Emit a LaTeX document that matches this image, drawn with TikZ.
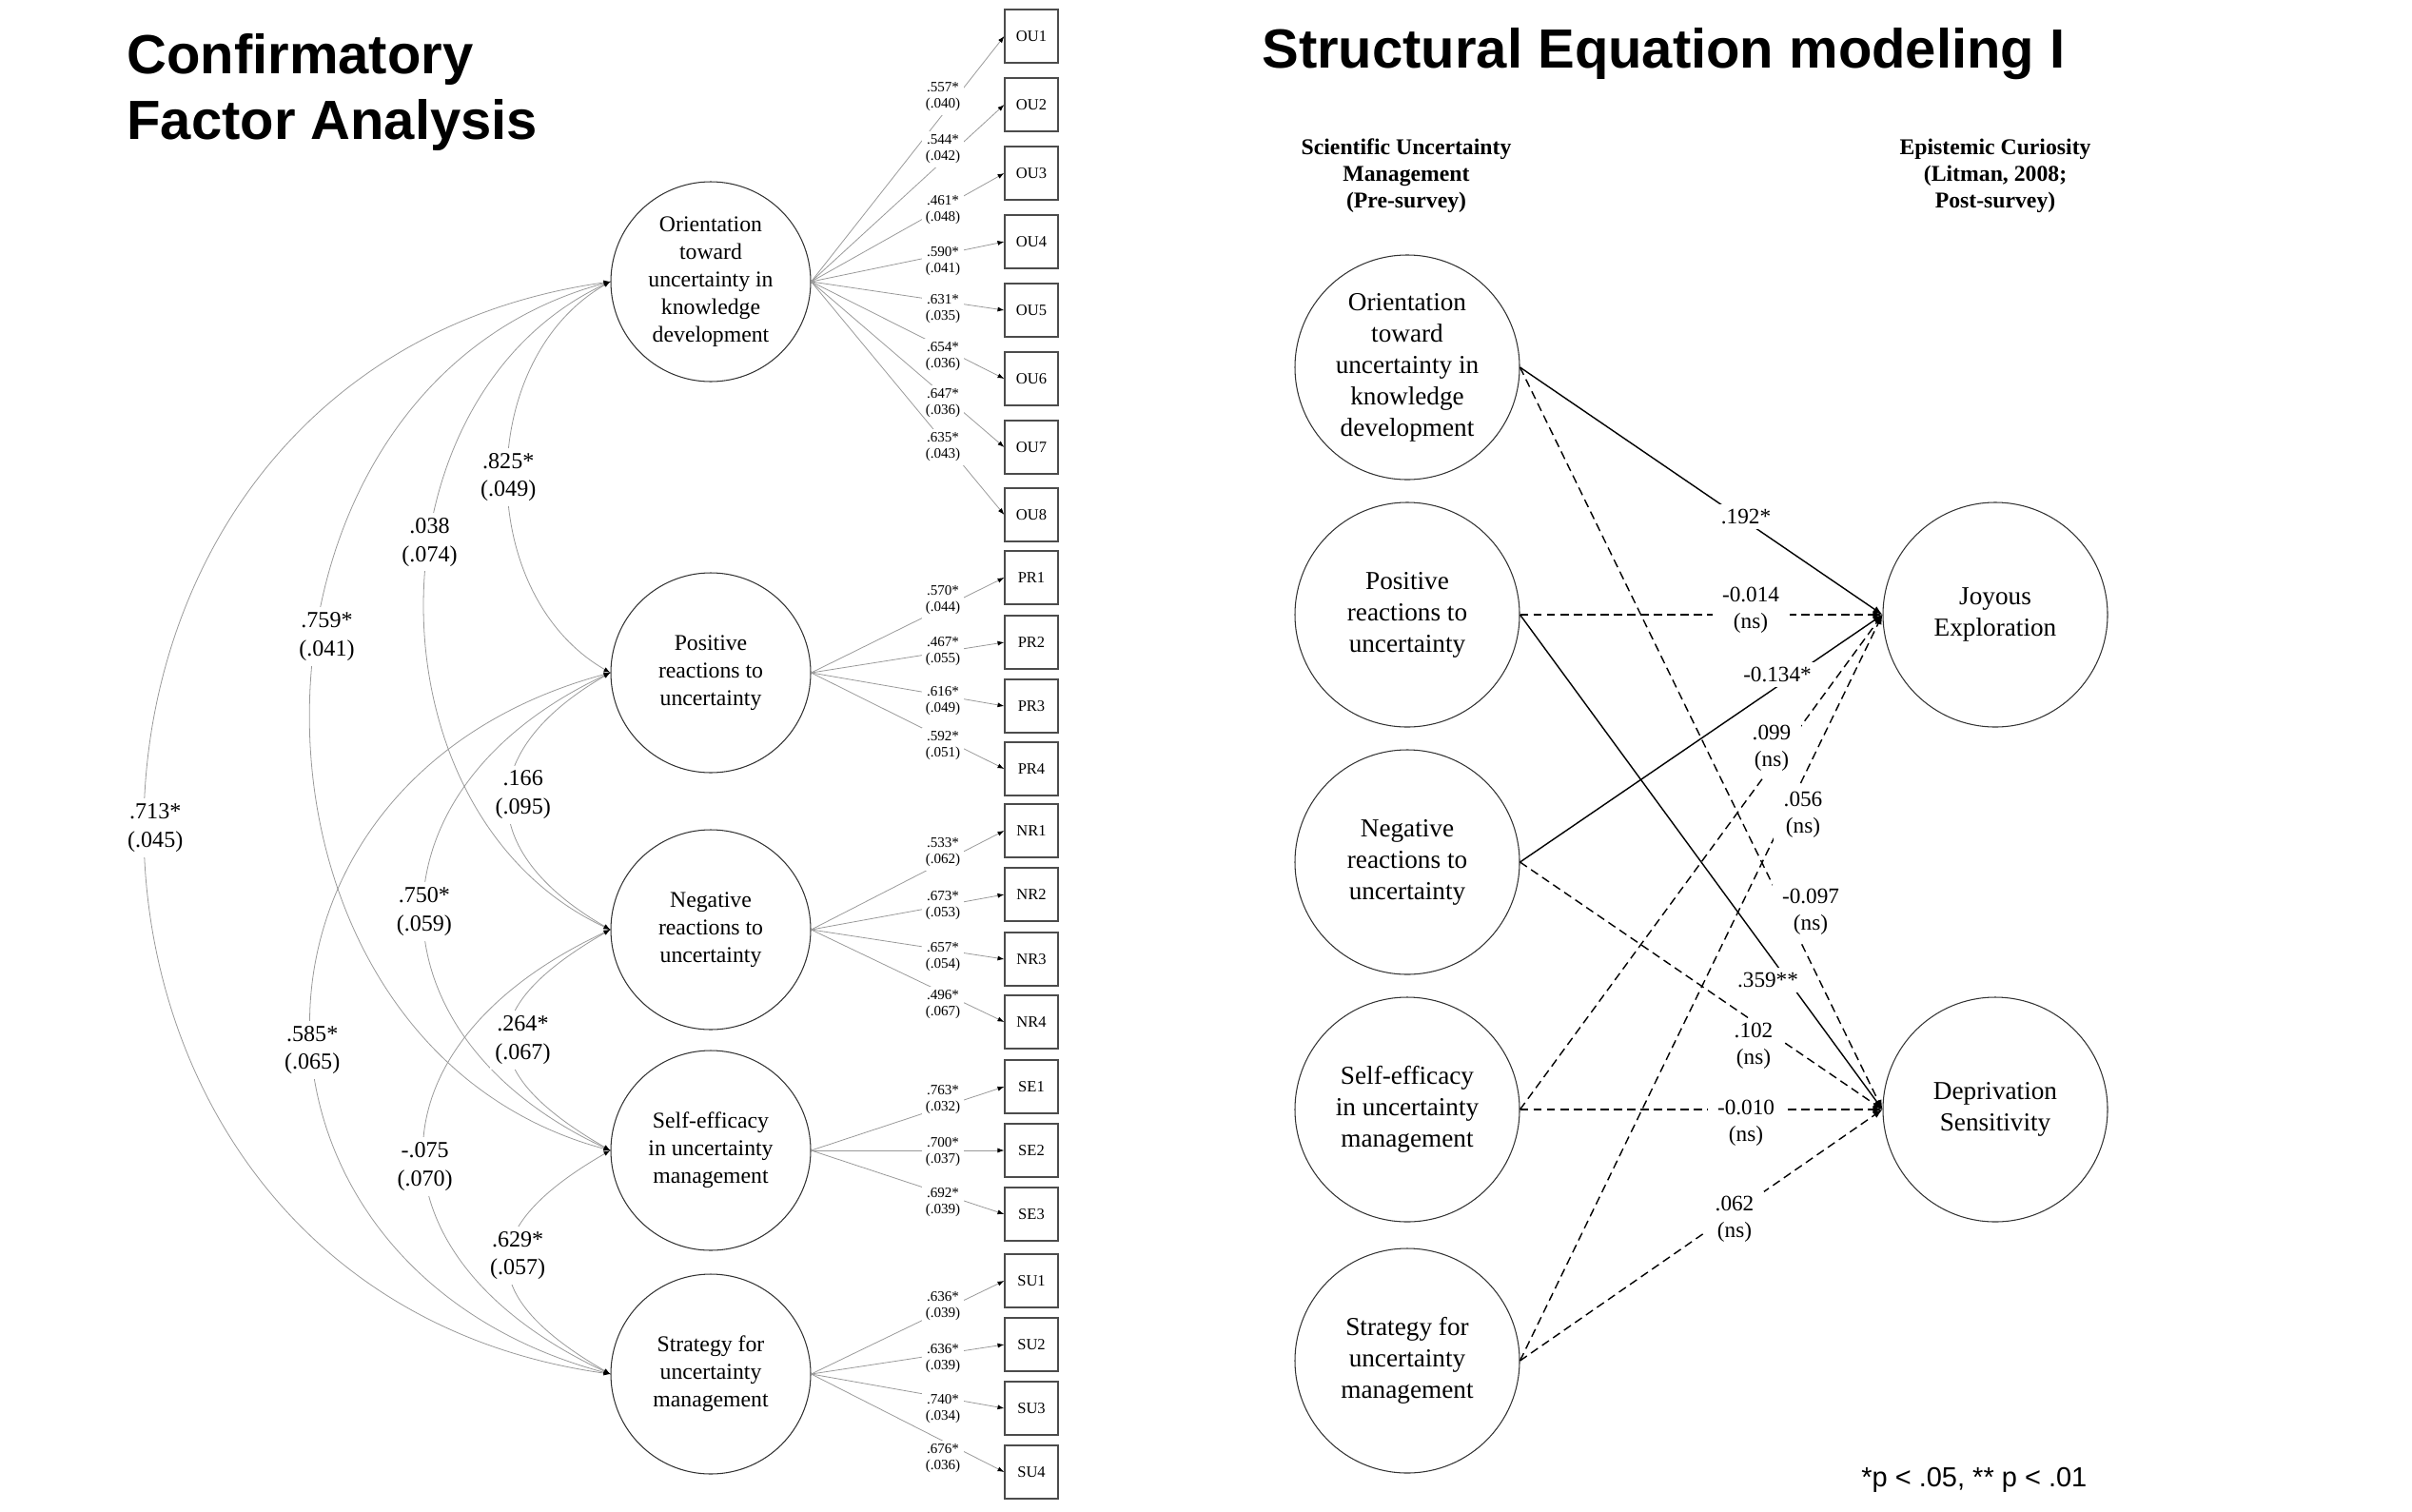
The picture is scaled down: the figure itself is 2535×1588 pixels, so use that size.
\documentclass[tikz,border=0pt]{standalone}
\usepackage{fontspec}
\setmainfont{Liberation Serif}
\setsansfont{Liberation Sans}
\usetikzlibrary{arrows.meta,positioning}
\tikzset{
  lat/.style={circle, draw=black!80, line width=0.6pt, minimum size=42mm,
              inner sep=0pt, align=center, font=\fontsize{13.5}{16.5}\selectfont},
  latr/.style={lat, minimum size=47.2mm, font=\fontsize{15.5}{18.8}\selectfont},
  ind/.style={rectangle, draw=black!70, line width=0.6pt, minimum size=11.2mm,
              inner sep=0pt, font=\fontsize{9.4}{11}\selectfont},
  load/.style={draw=black!40, line width=0.45pt,
               -{Latex[length=1.4mm,width=1mm,color=black]}},
  ldlbl/.style={fill=white, inner sep=2pt, align=center,
                font=\fontsize{8.6}{9.7}\selectfont},
  cov/.style={draw=black!40, line width=0.45pt,
              {Latex[length=1.4mm,width=1mm,color=black]}-{Latex[length=1.4mm,width=1mm,color=black]}},
  corlbl/.style={fill=white, inner sep=3pt, align=center,
                 font=\fontsize{13.7}{17}\selectfont},
  sig/.style={line width=0.8pt, -{Latex[length=2mm,width=1.5mm]}},
  nsig/.style={sig, dash pattern=on 5pt off 3pt},
  pathlbl/.style={fill=white, inner xsep=6pt, inner ysep=3pt, align=center,
                  font=\fontsize{13.2}{16}\selectfont},
  head/.style={align=center, inner sep=0pt, font=\bfseries\fontsize{13.5}{16}\selectfont},
  title/.style={align=left, inner sep=0pt, font=\sffamily\bfseries\fontsize{33}{39}\selectfont},
  note/.style={inner sep=0pt, font=\sffamily\fontsize{16.5}{20}\selectfont}
}

\begin{document}
\begin{tikzpicture}[x=0.2mm, y=0.2mm]
  \useasboundingbox (0,0) rectangle (2535,-1588);

  % titles
  \node[title, anchor=west] (t1) at (133,-97) {Confirmatory\\Factor Analysis};
  \node[title, anchor=west] (t2) at (1326,-57) {Structural Equation modeling I};

  % CFA: factors
  \node[lat] (f1) at (747,-296) {Orientation\\toward\\uncertainty in\\knowledge\\development};
  \node[lat] (f2) at (747,-707) {Positive\\reactions to\\uncertainty};
  \node[lat] (f3) at (747,-977) {Negative\\reactions to\\uncertainty};
  \node[lat] (f4) at (747,-1209) {Self-efficacy\\in uncertainty\\management};
  \node[lat] (f5) at (747,-1444) {Strategy for\\uncertainty\\management};

  % CFA: indicators and loadings
  \foreach \fa/\nm/\yy/\ly/\lv/\sv in {
      f1/OU1/38/102/.557/.040, f1/OU2/110/157/.544/.042, f1/OU3/182/221/.461/.048,
      f1/OU4/254/275/.590/.041, f1/OU5/326/325/.631/.035, f1/OU6/398/375/.654/.036,
      f1/OU7/470/424/.647/.036, f1/OU8/541/470/.635/.043,
      f2/PR1/607/631/.570/.044, f2/PR2/675/685/.467/.055, f2/PR3/742/737/.616/.049,
      f2/PR4/808/784/.592/.051,
      f3/NR1/873/896/.533/.062, f3/NR2/940/952/.673/.053, f3/NR3/1008/1006/.657/.054,
      f3/NR4/1074/1056/.496/.067,
      f4/SE1/1142/1156/.763/.032, f4/SE2/1209/1211/.700/.037, f4/SE3/1276/1264/.692/.039,
      f5/SU1/1346/1373/.636/.039, f5/SU2/1413/1428/.636/.039, f5/SU3/1480/1481/.740/.034,
      f5/SU4/1547/1533/.676/.036} {
    \node[ind] (\nm) at (1084,-\yy) {\nm};
    \draw[load] (\fa.east) -- (\nm.west);
    \node[ldlbl] (l\nm) at (991,-\ly) {\lv*\\(\sv)};
  }

  % CFA: factor covariances
  \draw[cov] (f1.west) to[out=210, in=150, looseness=1.03] node[corlbl] {.825*\\(.049)} (f2.west);
  \draw[cov] (f1.west) to[out=205, in=155, looseness=1.08] node[corlbl, pos=0.42] {.038\\(.074)} (f3.west);
  \draw[cov] (f1.west) to[out=195, in=165, looseness=1.22] node[corlbl, pos=0.43, xshift=6pt] {.759*\\(.041)} (f4.west);
  \draw[cov] (f1.west) to[out=188, in=172, looseness=1.47] node[corlbl, xshift=6pt] {.713*\\(.045)} (f5.west);
  \draw[cov] (f2.west) to[out=210, in=150, looseness=1.56] node[corlbl, xshift=8.5pt, yshift=3.7pt] {.166\\(.095)} (f3.west);
  \draw[cov] (f2.west) to[out=205, in=155, looseness=1.47] node[corlbl] {.750*\\(.059)} (f4.west);
  \draw[cov] (f2.west) to[out=195, in=165, looseness=1.51] node[corlbl, pos=0.53] {.585*\\(.065)} (f5.west);
  \draw[cov] (f3.west) to[out=210, in=150, looseness=1.82] node[corlbl, xshift=8.5pt] {.264*\\(.067)} (f4.west);
  \draw[cov] (f3.west) to[out=205, in=155, looseness=1.58] node[corlbl, pos=0.53] {-.075\\(.070)} (f5.west);
  \draw[cov] (f4.west) to[out=210, in=150, looseness=1.79] node[corlbl, pos=0.47, xshift=5pt] {.629*\\(.057)} (f5.west);

  % SEM: headers
  \node[head] (h1) at (1478,-185) {Scientific Uncertainty\\Management\\(Pre-survey)};
  \node[head] (h2) at (2097,-185) {Epistemic Curiosity\\(Litman, 2008;\\Post-survey)};

  % SEM: predictors
  \node[latr] (g1) at (1479,-386) {Orientation\\toward\\uncertainty in\\knowledge\\development};
  \node[latr] (g2) at (1479,-646) {Positive\\reactions to\\uncertainty};
  \node[latr] (g3) at (1479,-906) {Negative\\reactions to\\uncertainty};
  \node[latr] (g4) at (1479,-1166) {Self-efficacy\\in uncertainty\\management};
  \node[latr] (g5) at (1479,-1430) {Strategy for\\uncertainty\\management};

  % SEM: outcomes
  \node[latr] (joy) at (2097,-646) {Joyous\\Exploration};
  \node[latr] (dep) at (2097,-1166) {Deprivation\\Sensitivity};

  % SEM: paths
  \draw[sig] (g1.east) -- (joy.west);
  \draw[nsig] (g1.east) -- (dep.west);
  \draw[nsig] (g2.east) -- (joy.west);
  \draw[sig] (g2.east) -- (dep.west);
  \draw[sig] (g3.east) -- (joy.west);
  \draw[nsig] (g3.east) -- (dep.west);
  \draw[nsig] (g4.east) -- (joy.west);
  \draw[nsig] (g4.east) -- (dep.west);
  \draw[nsig] (g5.east) -- (joy.west);
  \draw[nsig] (g5.east) -- (dep.west);

  % SEM: path labels
  \node[pathlbl] (p1) at (1835,-543) {.192*};
  \node[pathlbl] (p2) at (1840,-641) {-0.014\\(ns)};
  \node[pathlbl] (p3) at (1868,-709) {-0.134*};
  \node[pathlbl] (p4) at (1862,-786) {.099\\(ns)};
  \node[pathlbl] (p5) at (1895,-856) {.056\\(ns)};
  \node[pathlbl] (p6) at (1903,-958) {-0.097\\(ns)};
  \node[pathlbl] (p7) at (1858,-1030) {.359**};
  \node[pathlbl] (p8) at (1843,-1099) {.102\\(ns)};
  \node[pathlbl] (p9) at (1835,-1180) {-0.010\\(ns)};
  \node[pathlbl] (p10) at (1823,-1281) {.062\\(ns)};

  \node[note, anchor=west] (fn) at (1956,-1555) {*p < .05, ** p < .01};
\end{tikzpicture}
\end{document}
